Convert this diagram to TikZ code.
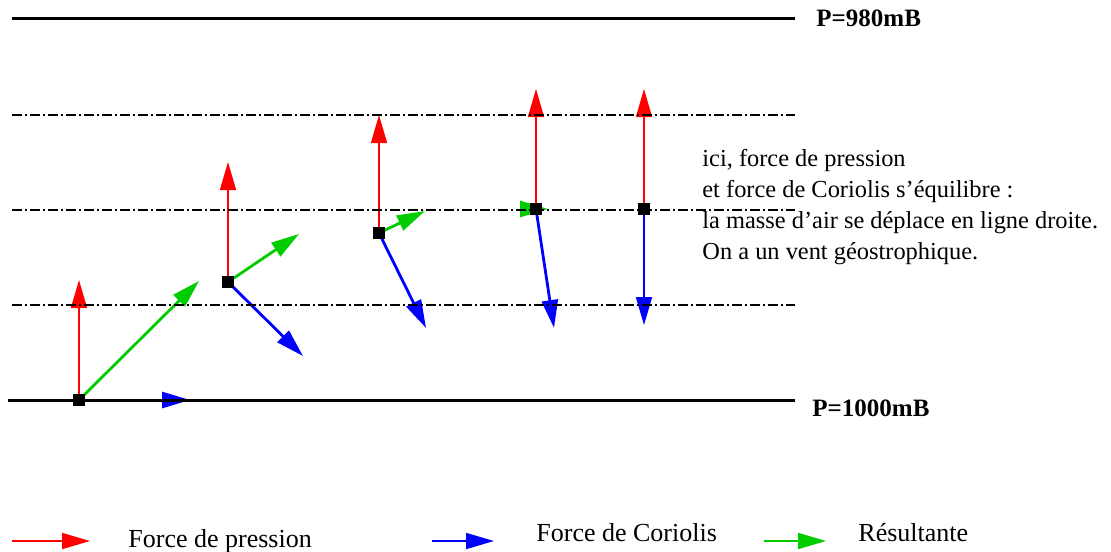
\documentclass[tikz,border=0pt]{standalone}
\usepackage{fontspec}
\setmainfont{Liberation Serif}
\usetikzlibrary{arrows.meta}
\definecolor{resgreen}{RGB}{0,204,0}
\begin{document}
\begin{tikzpicture}[x=0.5pt, y=-0.5pt]
% Forces on an air parcel between two isobars
\providecommand{\isoLineWidth}{1.5pt}
\providecommand{\levelLineWidth}{0.7pt}
\tikzset{
  force/.style={-{Triangle[length=14pt,width=8pt]}},
  pres/.style={force, red, line width=0.7pt},
  cor/.style={force, blue, line width=1.4pt},
  res/.style={force, resgreen, line width=1.4pt},
  isobar/.style={black, line width=\isoLineWidth},
  level/.style={black, line width=\levelLineWidth, dash pattern=on 5pt off 1.5pt on 1pt off 1.5pt},
  parcel/.style={fill=black, minimum size=6pt, inner sep=0pt},
  note/.style={anchor=base west, inner sep=0pt, font=\fontsize{12.2}{14}\selectfont},
  key/.style={anchor=base west, inner sep=0pt, font=\fontsize{13}{15}\selectfont},
  plabel/.style={anchor=base west, inner sep=0pt, font=\fontsize{12.5}{14}\selectfont\bfseries},
}
\useasboundingbox (0,0) rectangle (1111,551);
% Parcel positions
\coordinate (p1) at (79,400);
\coordinate (p2) at (228,282);
\coordinate (p3) at (379,233);
\coordinate (p4) at (536,209);
\coordinate (p5) at (644,209);
% Arrow tips
\coordinate (pt1) at (79,280);
\coordinate (pt2) at (228,162);
\coordinate (pt3) at (379,115);
\coordinate (pt4) at (536,89);
\coordinate (pt5) at (644,89);
\coordinate (ct1) at (190,400);
\coordinate (ct2) at (303,356);
\coordinate (ct3) at (426,328);
\coordinate (ct4) at (554,328);
\coordinate (ct5) at (644,325);
\coordinate (rt1) at (199,281);
\coordinate (rt2) at (299,234);
\coordinate (rt3) at (425,211);
\coordinate (rs4) at (522,209);
\coordinate (rt4) at (548,209);
% Pressure forces
\draw[pres] (p1) -- (pt1);
\draw[pres] (p2) -- (pt2);
\draw[pres] (p3) -- (pt3);
\draw[pres] (p4) -- (pt4);
\draw[pres] (p5) -- (pt5);
% Coriolis forces
\draw[cor] (p1) -- (ct1);
\draw[cor] (p2) -- (ct2);
\draw[cor] (p3) -- (ct3);
\draw[cor] (p4) -- (ct4);
\draw[cor, line width=0.9pt] (p5) -- (ct5);
% Resultants
\draw[res] (p1) -- (rt1);
\draw[res] (p2) -- (rt2);
\draw[res] (p3) -- (rt3);
\draw[res] (rs4) -- (rt4);
% Isobars and intermediate levels
\draw[isobar] (12,19) -- (795,19);
\draw[level] (12,115) -- (795,115);
\draw[level] (12,210) -- (795,210);
\draw[level] (12,305) -- (795,305);
\draw[isobar] (8,400) -- (795,400);
\node[plabel] (top) at (816,27) {P=980mB};
\node[plabel] (bottom) at (812,416) {P=1000mB};
% Air parcels
\node[parcel] (m1) at (p1) {};
\node[parcel] (m2) at (p2) {};
\node[parcel] (m3) at (p3) {};
\node[parcel] (m4) at (p4) {};
\node[parcel] (m5) at (p5) {};
% Comment on the balanced state
\node[note] (n1) at (702,166) {ici, force de pression};
\node[note] (n2) at (702,197) {et force de Coriolis s’équilibre :};
\node[note] (n3) at (702,228) {la masse d’air se déplace en ligne droite.};
\node[note] (n4) at (702,259) {On a un vent géostrophique.};
% Legend
\coordinate (ka) at (12,541);
\coordinate (kb) at (90,541);
\coordinate (kc) at (432,541);
\coordinate (kd) at (494,541);
\coordinate (ke) at (764,541);
\coordinate (kf) at (826,541);
\draw[force, red, line width=0.9pt] (ka) -- (kb);
\draw[force, blue, line width=0.9pt] (kc) -- (kd);
\draw[force, resgreen, line width=0.9pt] (ke) -- (kf);
\node[key] (k1) at (128,547) {Force de pression};
\node[key] (k2) at (536,541) {Force de Coriolis};
\node[key] (k3) at (858,541) {Résultante};
\end{tikzpicture}
\end{document}
